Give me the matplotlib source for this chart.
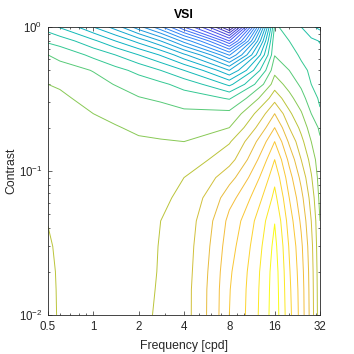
import numpy as np
import matplotlib
matplotlib.use("Agg")
import matplotlib.pyplot as plt
from matplotlib.colors import LinearSegmentedColormap

# grid of the VSI response (rows = contrast, columns = frequency)
freq = [0.5, 0.6, 1, 1.4, 2, 2.8, 4, 8, 16, 20, 24, 28, 32]
contrast = [0.01, 0.015, 0.02, 0.03, 0.045, 0.065, 0.09, 0.12, 0.16, 0.2,
            0.25, 0.32, 0.4, 0.5, 0.64, 0.8, 1.0]
vsi = [
    [23.4, 22.83, 22.6, 22.55, 22.9, 23.07, 23.6, 27.0, 30.6, 28.3, 26.55, 24.55, 22.3],
    [23.35, 22.82, 22.6, 22.55, 22.85, 23.06, 23.6, 26.95, 30.55, 28.2, 26.5, 24.5, 22.25],
    [23.3, 22.8, 22.6, 22.55, 22.8, 23.05, 23.55, 26.85, 30.5, 28.1, 26.4, 24.45, 22.2],
    [23.15, 22.75, 22.6, 22.5, 22.75, 23.04, 23.5, 26.6, 30.3, 27.9, 26.2, 24.3, 22.1],
    [22.95, 22.65, 22.55, 22.45, 22.65, 23.0, 23.4, 26.3, 29.95, 27.5, 25.8, 24.0, 22.0],
    [22.7, 22.6, 22.5, 22.4, 22.55, 22.85, 23.2, 25.6, 29.3, 27.0, 25.3, 23.6, 21.7],
    [22.6, 22.55, 22.45, 22.4, 22.45, 22.7, 23.0, 24.6, 28.7, 26.4, 24.7, 23.1, 21.5],
    [22.55, 22.5, 22.4, 22.35, 22.3, 22.4, 22.5, 23.6, 28.0, 25.7, 24.0, 22.6, 21.3],
    [22.5, 22.45, 22.3, 22.25, 22.1, 22.05, 22.0, 22.9, 27.0, 24.8, 23.3, 22.0, 21.1],
    [22.45, 22.4, 22.2, 22.05, 21.85, 21.75, 21.6, 22.0, 26.0, 24.0, 22.7, 21.5, 20.85],
    [22.35, 22.3, 22.0, 21.8, 21.5, 21.4, 21.2, 21.25, 25.0, 23.2, 22.1, 21.0, 20.1],
    [22.2, 22.15, 21.65, 21.5, 21.05, 20.85, 20.5, 19.9, 23.6, 22.3, 21.4, 20.4, 19.85],
    [22.0, 21.9, 21.35, 20.95, 20.55, 20.2, 19.6, 17.75, 22.5, 21.6, 20.8, 20.0, 19.7],
    [21.5, 21.4, 20.95, 20.3, 19.7, 19.0, 18.0, 15.0, 21.7, 21.0, 20.3, 19.8, 19.5],
    [21.0, 20.7, 19.7, 19.0, 18.0, 16.9, 15.2, 10.9, 20.95, 20.5, 19.8, 19.5, 19.2],
    [19.8, 19.5, 18.2, 17.0, 15.6, 14.0, 11.6, 6.0, 20.8, 20.0, 19.3, 19.2, 18.95],
    [18.5, 17.9, 16.0, 14.5, 12.35, 10.2, 7.0, 0.5, 20.15, 19.6, 19.0, 18.2, 17.7],
]
levels = list(range(1, 31))

xticks = [0.5, 1, 2, 4, 8, 16, 32]
xticklabels = ["0.5", "1", "2", "4", "8", "16", "32"]

# parula-like colormap
parula = LinearSegmentedColormap.from_list("parula", [
    (0.2422, 0.1504, 0.6603), (0.2810, 0.3228, 0.9579), (0.1786, 0.5289, 0.9682),
    (0.0689, 0.6279, 0.8343), (0.0383, 0.7134, 0.7467), (0.1801, 0.7813, 0.5950),
    (0.4420, 0.8002, 0.3807), (0.7280, 0.7680, 0.2280), (0.9500, 0.7300, 0.2400),
    (0.9900, 0.8100, 0.1900), (0.9769, 0.9839, 0.0805)])
# where each contour level sits on the colormap
pos = np.interp(levels, [1, 8, 13, 17, 19, 21, 22, 23, 25, 27, 30],
                [0.0, 0.15, 0.27, 0.38, 0.46, 0.56, 0.63, 0.7, 0.78, 0.86, 1.0])
line_colors = [parula(p) for p in pos]

plt.rcParams["font.family"] = ["Liberation Sans", "DejaVu Sans"]
fig = plt.figure(figsize=(3.54, 3.54), dpi=100)
ax = fig.add_axes([48 / 354, 39 / 354, 272 / 354, 288 / 354])

ax.contour(freq, contrast, np.array(vsi), levels=levels, colors=line_colors,
           linewidths=0.7)

ax.set_xscale("log")
ax.set_yscale("log")
ax.set_xlim(0.5, 32)
ax.set_ylim(0.01, 1)
ax.set_xticks(xticks)
ax.set_xticklabels(xticklabels)
ax.set_xticks([0.6, 0.7, 0.8, 0.9, 3, 5, 6, 7, 9, 10, 20, 30], minor=True)
ax.xaxis.set_minor_formatter(plt.NullFormatter())

grey = "#262626"
for s in ax.spines.values():
    s.set_color(grey)
    s.set_linewidth(0.6)
ax.tick_params(which="both", direction="in", top=True, right=True,
               colors=grey, labelsize=8.3, width=0.5)
ax.tick_params(which="major", length=3, pad=4)
ax.tick_params(which="minor", length=1.6)

ax.set_xlabel("Frequency [cpd]", fontsize=8.8, color=grey, labelpad=5)
ax.set_ylabel("Contrast", fontsize=8.8, color=grey, labelpad=1)
ax.set_title("VSI", fontsize=8.8, fontweight="bold", pad=6.5)

fig.savefig("out.png", dpi=100)
